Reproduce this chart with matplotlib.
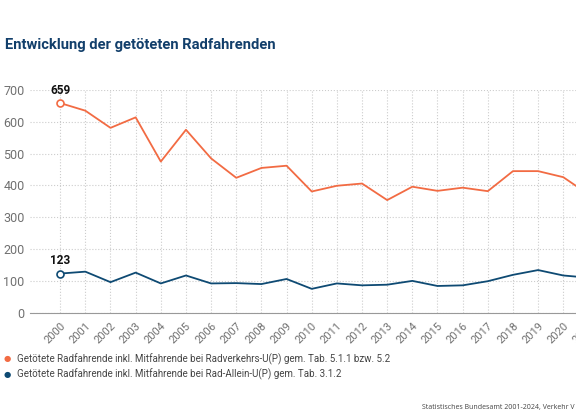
import matplotlib
matplotlib.use("Agg")
import matplotlib.pyplot as plt

# data
years = list(range(2000, 2022))
radverkehr = [659, 635, 581, 614, 475, 575, 485, 424, 455, 462, 381,
              399, 406, 354, 396, 383, 393, 382, 445, 445, 426, 372]
rad_allein = [123, 129, 96, 126, 92, 117, 92, 93, 90, 106, 75,
              92, 86, 88, 100, 84, 86, 99, 119, 134, 117, 110]
yticks = [0, 100, 200, 300, 400, 500, 600, 700]

label_orange = "Getötete Radfahrende inkl. Mitfahrende bei Radverkehrs-U(P) gem. Tab. 5.1.1 bzw. 5.2"
label_blue = "Getötete Radfahrende inkl. Mitfahrende bei Rad-Allein-U(P) gem. Tab. 3.1.2"
source = "Statistisches Bundesamt 2001-2024, Verkehr V"

orange = "#f26b43"
blue = "#0e4a73"
grey = "#707070"

plt.rcParams['font.family'] = ['Roboto', 'DejaVu Sans']

fig = plt.figure(figsize=(5.76, 4.17), dpi=100)
# axes run past the right edge, like the cropped original
ax = fig.add_axes([30 / 576, 104.3 / 417, 571 / 576, 222.7 / 417])

ax.plot(years, radverkehr, color=orange, lw=1.3, zorder=3)
ax.plot(years, rad_allein, color=blue, lw=1.3, zorder=3)

# open markers + value labels on the first year
for vals, c in [(radverkehr, orange), (rad_allein, blue)]:
    ax.plot(years[0], vals[0], 'o', ms=5, mfc='white', mec=c, mew=1.2, zorder=4)
    ax.annotate(str(vals[0]), (years[0], vals[0]), xytext=(0, 4.5),
                textcoords='offset points', ha='center', va='bottom',
                fontsize=8.5, fontweight='bold', color='#111111')

ax.set_xlim(years[0] - 1.2, years[-1] + 0.5)
ax.set_ylim(0, 700)
ax.set_yticks(yticks)
ax.set_xticks(years)
ax.set_xticklabels([str(y) for y in years], rotation=45, ha='right',
                   rotation_mode='anchor', fontsize=8, color=grey)
ax.tick_params(axis='y', length=0, pad=4, labelsize=9, labelcolor=grey)
ax.tick_params(axis='x', length=0, pad=6)

ax.grid(True, color='#cccccc', linestyle=':', linewidth=0.8)
ax.set_axisbelow(True)
for s in ['top', 'right', 'left']:
    ax.spines[s].set_visible(False)
ax.spines['bottom'].set_color('#999999')
ax.spines['bottom'].set_linewidth(0.8)

fig.text(5 / 576, 1 - 45 / 417, "Entwicklung der getöteten Radfahrenden",
         fontsize=10.6, fontweight='bold', color='#123f6b', va='center')

# legend drawn by hand
for i, (lab, c) in enumerate([(label_orange, orange), (label_blue, blue)]):
    y = 1 - (359 + 15 * i) / 417
    fig.text(7 / 576, y, "●", color=c, fontsize=6, ha='center', va='center',
             family=['DejaVu Sans'])
    fig.text(17 / 576, y, lab, color='#444444', fontsize=7, va='center')

fig.text(574 / 576, 1 - 407 / 417, source, fontsize=5, color='#444444',
         ha='right', va='center', family=['Open Sans'])

fig.savefig("out.png", dpi=100)
